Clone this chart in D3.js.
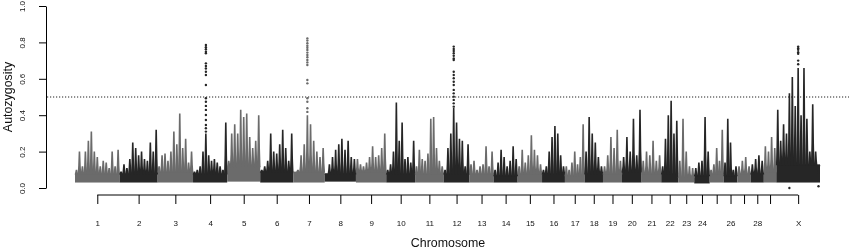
<!DOCTYPE html>
<html>
<head>
<meta charset="utf-8">
<script src="https://cdn.jsdelivr.net/npm/d3@7/dist/d3.min.js"></script>
<style>
	body { margin: 0; background: #fff; }
	svg { display: block; will-change: transform; }
	text { font-family: "Liberation Sans", Arial, sans-serif; fill: #111; }
</style>
</head>
<body>
<div id="chart"></div>
<script>

///////////////////////////////////////////////////////////////////////////
////////////////////////////////// Data ///////////////////////////////////
///////////////////////////////////////////////////////////////////////////

var chromosomes = ["1","2","3","4","5","6","7","8","9","10","11","12","13","14","15",
	"16","17","18","19","20","21","22","23","24","25","26","27","28","29","X"];

//Chromosome lengths (Mb)
var chromLengths = [150, 128, 119, 115, 111, 111, 106, 105, 102, 97, 96, 87, 81, 81, 82,
	77, 66, 62, 64, 66, 66, 57, 54, 52, 47, 46, 45, 44, 42, 147];

//Labels R managed to print (25, 27 and 29 dropped for overlap)
var xTickLabels = ["1","2","3","4","5","6","7","8","9","10","11","12","13","14","15",
	"16","17","18","19","20","21","22","23","24","","26","","28","","X"];

var yTicks = [0, 0.2, 0.4, 0.6, 0.8, 1.0];
var threshold = 0.5;

//Dense background band of SNPs per chromosome
var bandBottom = [0.03, 0.03, 0.03, 0.03, 0.035, 0.03, 0.03, 0.035, 0.03, 0.03, 0.03, 0.03, 0.03, 0.03, 0.03,
	0.03, 0.03, 0.03, 0.03, 0.03, 0.03, 0.03, 0.03, 0.025, 0.03, 0.03, 0.03, 0.03, 0.03, 0.03];
var bandTop = [0.08, 0.08, 0.09, 0.08, 0.12, 0.09, 0.09, 0.08, 0.09, 0.08, 0.08, 0.08, 0.08, 0.07, 0.08,
	0.08, 0.07, 0.08, 0.08, 0.09, 0.08, 0.08, 0.06, 0.07, 0.08, 0.07, 0.08, 0.08, 0.09, 0.13];

//Highest autozygosity along each chromosome, evenly spaced windows
var peaks = [
	[0.10, 0.20, 0.12, 0.20, 0.26, 0.31, 0.20, 0.17, 0.12, 0.15, 0.14, 0.11, 0.20, 0.12, 0.21],
	[0.09, 0.13, 0.11, 0.16, 0.25, 0.22, 0.18, 0.20, 0.16, 0.15, 0.25, 0.20, 0.32],
	[0.12, 0.18, 0.19, 0.15, 0.20, 0.31, 0.24, 0.41, 0.22, 0.27, 0.14, 0.20],
	[0.09, 0.10, 0.12, 0.20, 0.30, 0.18, 0.15, 0.16, 0.14, 0.12, 0.10, 0.36],
	[0.15, 0.30, 0.35, 0.30, 0.43, 0.39, 0.41, 0.28, 0.22, 0.26, 0.40],
	[0.10, 0.12, 0.15, 0.30, 0.20, 0.19, 0.24, 0.32, 0.22, 0.15, 0.30],
	[0.07, 0.10, 0.18, 0.24, 0.40, 0.35, 0.26, 0.20, 0.17, 0.22],
	[0.08, 0.13, 0.17, 0.21, 0.24, 0.27, 0.21, 0.26, 0.17, 0.16],
	[0.16, 0.13, 0.12, 0.14, 0.17, 0.23, 0.17, 0.18, 0.22, 0.30],
	[0.10, 0.13, 0.20, 0.47, 0.26, 0.36, 0.16, 0.17, 0.14, 0.26],
	[0.12, 0.21, 0.16, 0.15, 0.19, 0.38, 0.39, 0.22, 0.15, 0.12],
	[0.10, 0.22, 0.30, 0.44, 0.36, 0.27, 0.26, 0.12, 0.24],
	[0.13, 0.15, 0.10, 0.12, 0.13, 0.23, 0.12, 0.20],
	[0.10, 0.14, 0.21, 0.17, 0.12, 0.15, 0.23, 0.16],
	[0.12, 0.21, 0.14, 0.18, 0.29, 0.21, 0.18, 0.13],
	[0.10, 0.12, 0.20, 0.28, 0.34, 0.30, 0.18, 0.12],
	[0.12, 0.10, 0.14, 0.20, 0.13, 0.17, 0.35],
	[0.20, 0.39, 0.30, 0.25, 0.17, 0.12],
	[0.12, 0.18, 0.28, 0.22, 0.32, 0.15],
	[0.17, 0.28, 0.20, 0.38, 0.18, 0.43],
	[0.15, 0.20, 0.18, 0.26, 0.15, 0.18],
	[0.12, 0.27, 0.40, 0.48, 0.30, 0.37],
	[0.15, 0.38, 0.20, 0.12, 0.11],
	[0.11, 0.14, 0.15, 0.39, 0.20],
	[0.10, 0.13, 0.22, 0.15, 0.32],
	[0.14, 0.38, 0.25, 0.10, 0.12],
	[0.12, 0.15, 0.17, 0.12],
	[0.13, 0.16, 0.18, 0.15],
	[0.23, 0.20, 0.28, 0.22],
	[0.43, 0.26, 0.35, 0.30, 0.52, 0.61, 0.45, 0.66, 0.40, 0.66, 0.38, 0.20, 0.46, 0.20, 0.08]
];

//Sparse SNPs of the tall peaks (position in Mb within the chromosome)
var tallPeaks = [
	{ chr: "4", pos: 43.3, values: [0.786, 0.773, 0.762, 0.749, 0.740, 0.685, 0.670, 0.657, 0.639, 0.621, 0.566,
		0.493, 0.474, 0.451, 0.429, 0.401, 0.374, 0.346, 0.328, 0.310] },
	{ chr: "7", pos: 47.6, values: [0.822, 0.810, 0.795, 0.782, 0.771, 0.758, 0.744, 0.731, 0.718, 0.703, 0.690,
		0.676, 0.593, 0.575, 0.493, 0.474, 0.438, 0.418] },
	{ chr: "12", pos: 34, values: [0.777, 0.764, 0.753, 0.740, 0.727, 0.712, 0.703, 0.639, 0.621, 0.603, 0.584,
		0.566, 0.539, 0.520, 0.502, 0.484, 0.465, 0.447] },
	{ chr: "X", pos: 73.6, values: [0.777, 0.768, 0.759, 0.746, 0.737, 0.70, 0.68] },
	{ chr: "X", pos: 44, values: [0.0] },
	{ chr: "X", pos: 142, values: [0.01] }
];

///////////////////////////////////////////////////////////////////////////
//////////////////// Set up and initiate svg containers ///////////////////
///////////////////////////////////////////////////////////////////////////

var width = 850,
	height = 249;

var svg = d3.select("#chart")
	.append("svg")
	.attr("width", width)
	.attr("height", height);

//Cumulative start of every chromosome
var starts = [];
var total = 0;
chromLengths.forEach(function(l) { starts.push(total); total += l; });

var x = d3.scaleLinear()
	.domain([0, total])
	.range([75, 820]);

var y = d3.scaleLinear()
	.domain([0, 1])
	.range([188, 6]);

var colorOf = function(i) { return i % 2 === 0 ? "#6b6b6b" : "#262626"; };

///////////////////////////////////////////////////////////////////////////
//////////////////////////////// Draw SNPs ////////////////////////////////
///////////////////////////////////////////////////////////////////////////

var dataWrapper = svg.append("g").attr("class", "snps");

//Dense band
dataWrapper.selectAll(".band")
	.data(chromosomes)
	.enter().append("rect")
	.attr("class", "band")
	.attr("x", function(d,i) { return x(starts[i]); })
	.attr("width", function(d,i) { return x(starts[i] + chromLengths[i]) - x(starts[i]); })
	.attr("y", function(d,i) { return y(bandTop[i]); })
	.attr("height", function(d,i) { return y(bandBottom[i]) - y(bandTop[i]); })
	.style("fill", function(d,i) { return colorOf(i); });

//Spikes, wide at the foot and thin at the tip
var spikes = [];
peaks.forEach(function(vals, i) {
	var step = chromLengths[i] / vals.length;
	vals.forEach(function(v, j) {
		spikes.push({
			pos: starts[i] + (j + 0.5) * step,
			step: step,
			base: bandTop[i],
			hi: v,
			ci: i
		});
	});
});

dataWrapper.selectAll(".spike")
	.data(spikes)
	.enter().append("path")
	.attr("class", "spike")
	.attr("d", function(d) {
		var cx = x(d.pos),
			half = (x(d.step) - x(0)) * 0.62,
			yb = y(d.base) + 1,
			ym = y(d.base + (d.hi - d.base) * 0.35),
			yt = y(d.hi);
		return "M" + (cx - half) + "," + yb +
			"L" + (cx - 1.3) + "," + ym +
			"L" + (cx - 0.8) + "," + yt +
			"L" + (cx + 0.8) + "," + yt +
			"L" + (cx + 1.3) + "," + ym +
			"L" + (cx + half) + "," + yb + "Z";
	})
	.style("fill", function(d) { return colorOf(d.ci); });

//Sparse points of the tall peaks
var dots = [];
tallPeaks.forEach(function(p) {
	var ci = chromosomes.indexOf(p.chr);
	p.values.forEach(function(v) { dots.push({ pos: starts[ci] + p.pos, v: v, ci: ci }); });
});

dataWrapper.selectAll(".dot")
	.data(dots)
	.enter().append("circle")
	.attr("class", "dot")
	.attr("cx", function(d) { return x(d.pos); })
	.attr("cy", function(d) { return y(d.v); })
	.attr("r", 1.2)
	.style("fill", function(d) { return colorOf(d.ci); });

//Threshold line
svg.append("line")
	.attr("x1", 47).attr("x2", 849)
	.attr("y1", y(threshold)).attr("y2", y(threshold))
	.style("stroke", "#222")
	.style("stroke-width", 1.1)
	.style("stroke-dasharray", "1.2,1.8");

///////////////////////////////////////////////////////////////////////////
////////////////////////////////// Axes ///////////////////////////////////
///////////////////////////////////////////////////////////////////////////

var yAxis = svg.append("g")
	.attr("transform", "translate(46,0)")
	.call(d3.axisLeft(y).tickValues(yTicks).tickSize(7).tickSizeOuter(0).tickFormat(d3.format(".1f")));

yAxis.selectAll("text")
	.attr("transform", "rotate(-90)")
	.attr("x", 0)
	.attr("y", -21.5)
	.attr("dy", 0)
	.style("text-anchor", "middle")
	.style("font-size", "8px")
	.style("fill", "#111");

var centers = chromLengths.map(function(l, i) { return starts[i] + l / 2; });

var xAxis = svg.append("g")
	.attr("transform", "translate(0,195)")
	.call(d3.axisBottom(x).tickValues(centers).tickSize(9).tickPadding(16.5)
		.tickFormat(function(d,i) { return xTickLabels[i]; }));

xAxis.select(".domain").remove();
xAxis.append("line")
	.attr("x1", x(centers[0])).attr("x2", x(centers[centers.length - 1]))
	.attr("y1", 0).attr("y2", 0)
	.style("stroke", "#000");

xAxis.selectAll("text")
	.style("font-size", "8px")
	.style("fill", "#111");

svg.selectAll(".tick text").style("font-family", "'Liberation Sans', Arial, sans-serif");

//Axis titles
svg.append("text")
	.attr("transform", "translate(12," + y(0.5) + ") rotate(-90)")
	.style("text-anchor", "middle")
	.style("font-size", "12.4px")
	.text("Autozygosity");

svg.append("text")
	.attr("x", 448)
	.attr("y", 247)
	.style("text-anchor", "middle")
	.style("font-size", "12.4px")
	.text("Chromosome");

</script>
</body>
</html>
